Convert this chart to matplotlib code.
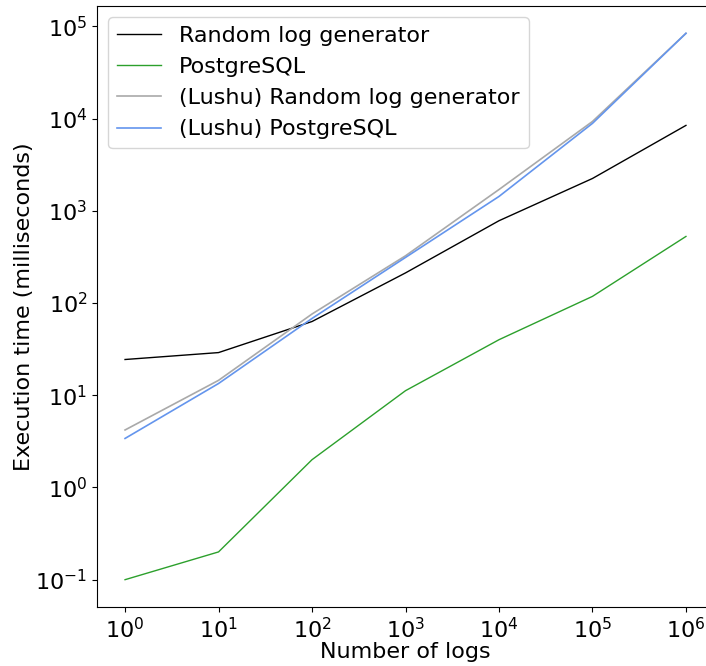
import numpy as np
import matplotlib
matplotlib.use("Agg")
import matplotlib.pyplot as plt

# Datos
n_logs = [1, 10, 100, 1000, 10000, 100000, 1000000]
random_gen = [24.4, 29, 63, 212, 780, 2240, 8430]
postgres = [0.1, 0.2, 2.0, 11.2, 40, 118, 527]
lushu_random = [4.2, 14.5, 76, 325, 1700, 9300, 84000]
lushu_postgres = [3.4, 13.4, 68, 312, 1430, 8870, 84000]

plt.rcParams["font.size"] = 16

fig = plt.figure(figsize=(7.06, 6.66), dpi=100)
ax = fig.add_axes([97 / 706, 59 / 666, 617 / 706, 601 / 666])

ax.plot(n_logs, random_gen, color="black", lw=1, label="Random log generator")
ax.plot(n_logs, postgres, color="tab:green", lw=1, label="PostgreSQL")
ax.plot(n_logs, lushu_random, color="darkgray", lw=1.2, label="(Lushu) Random log generator")
ax.plot(n_logs, lushu_postgres, color="cornflowerblue", lw=1.2, label="(Lushu) PostgreSQL")

ax.set_xscale("log")
ax.set_yscale("log")
ax.minorticks_off()
ax.set_xlabel("Number of logs", labelpad=0)
ax.set_ylabel("Execution time (milliseconds)", labelpad=1)
ax.legend(loc="upper left")

fig.savefig("out.png", dpi=100)
